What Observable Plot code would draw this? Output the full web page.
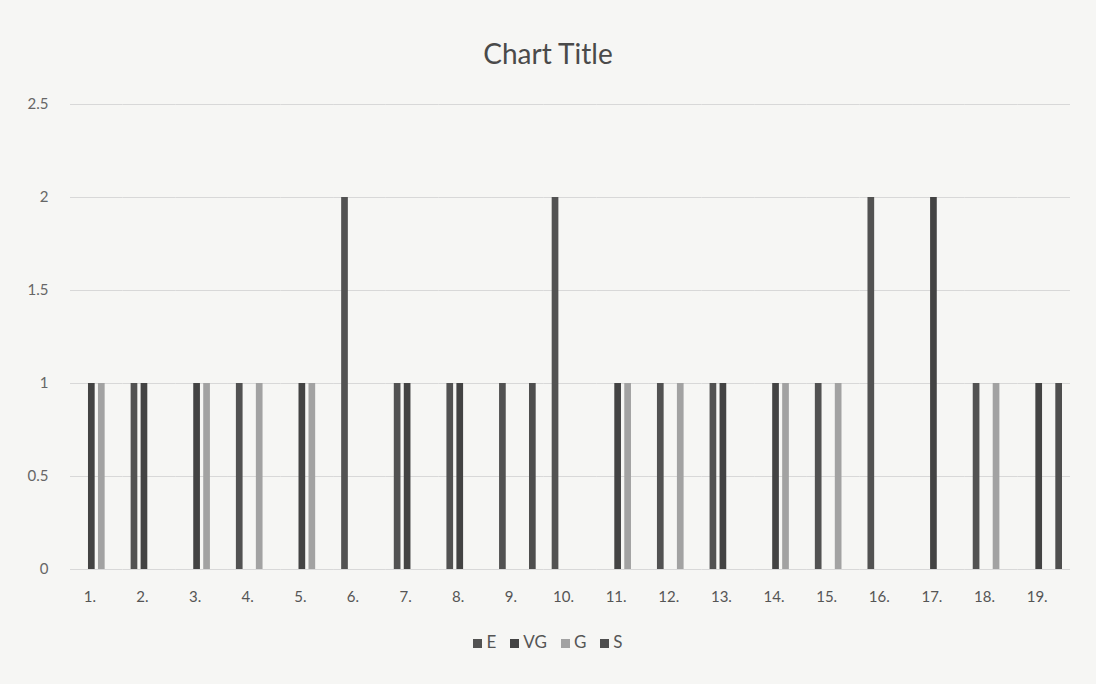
<!DOCTYPE html>
<html>
<head>
<meta charset="utf-8">
<script src="https://cdn.jsdelivr.net/npm/d3@7"></script>
<script src="https://cdn.jsdelivr.net/npm/@observablehq/plot@0.6"></script>
<style>
  html, body { margin: 0; padding: 0; background: #f6f6f4; }
  #wrap { position: relative; width: 1096px; height: 684px; overflow: hidden; font-family: Lato, "Open Sans", sans-serif; }
  #title { position: absolute; top: 36px; left: 0; width: 1096px; text-align: center; font-size: 28px; color: #4a4a4a; }
  #chart { position: absolute; top: 0; left: 0; }
  #legend { position: absolute; top: 631px; left: 0; width: 1096px; text-align: center; font-size: 17px; color: #555; }
  #legend span.item { margin: 0 7px; }
  #legend span.sw { display: inline-block; width: 9px; height: 9px; margin-right: 4px; vertical-align: 0px; }
</style>
</head>
<body>
<div id="wrap">
  <div id="title">Chart Title</div>
  <div id="chart"></div>
  <div id="legend"></div>
</div>
<script>
const categories = ["1.","2.","3.","4.","5.","6.","7.","8.","9.","10.","11.","12.","13.","14.","15.","16.","17.","18.","19."];
const series = ["E", "VG", "G", "S"];
const valuesE  = [0,1,0,1,0,2,1,1,1,2,0,1,1,0,1,2,0,1,0];
const valuesVG = [1,1,1,0,1,0,1,1,0,0,1,0,1,1,0,0,2,0,1];
const valuesG  = [1,0,1,1,1,0,0,0,0,0,1,1,0,1,1,0,0,1,0];
const valuesS  = [0,0,0,0,0,0,0,0,1,0,0,0,0,0,0,0,0,0,1];
const yTicks = [0, 0.5, 1, 1.5, 2, 2.5];
const colors = ["#525252", "#434343", "#a2a2a2", "#4e4e4e"];

const allValues = {E: valuesE, VG: valuesVG, G: valuesG, S: valuesS};
const data = [];
categories.forEach((c, i) => {
  series.forEach(s => {
    const v = allValues[s][i];
    if (v > 0) data.push({cat: c, series: s, value: v});
  });
});

const chart = Plot.plot({
  width: 1096,
  height: 609,
  marginTop: 104,
  marginBottom: 40,
  marginLeft: 70,
  marginRight: 26,
  style: {background: "transparent", fontFamily: "Lato, 'Open Sans', sans-serif"},
  fx: {domain: categories, padding: 0, round: false, axis: null},
  x: {domain: series, axis: null, round: false, paddingInner: 0.33, paddingOuter: 0, insetLeft: 8, insetRight: 8},
  y: {domain: [0, 2.5], axis: null},
  color: {domain: series, range: colors},
  marks: [
    Plot.gridY(yTicks, {stroke: "#d8d8d8", strokeOpacity: 1, facetAnchor: null}),
    Plot.axisY({ticks: yTicks, tickSize: 0, tickPadding: 22, fontSize: 15, fill: "#666", tickFormat: d => String(d), facetAnchor: "left", label: null}),
    Plot.barY(data, {fx: "cat", x: "series", y: "value", fill: "series"}),
    Plot.axisFx({anchor: "bottom", tickSize: 0, tickPadding: 22, fontSize: 15, fill: "#555", dx: -7, label: null})
  ]
});
document.getElementById("chart").appendChild(chart);

const legend = document.getElementById("legend");
series.forEach((s, i) => {
  const item = document.createElement("span");
  item.className = "item";
  const sw = document.createElement("span");
  sw.className = "sw";
  sw.style.background = colors[i];
  item.appendChild(sw);
  item.appendChild(document.createTextNode(s));
  legend.appendChild(item);
});
</script>
</body>
</html>
